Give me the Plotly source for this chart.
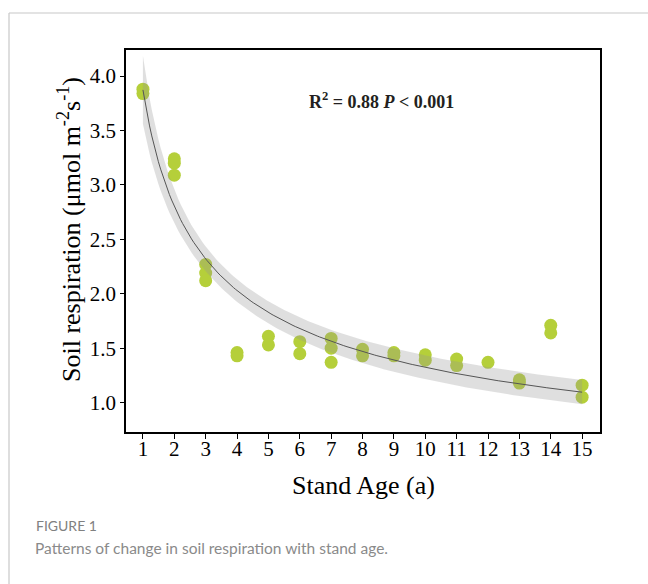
import numpy as np
import plotly.graph_objects as go

# ---- data ----
stand_age = [1, 1,
             2, 2, 2,
             3, 3, 3,
             4, 4,
             5, 5,
             6, 6,
             7, 7, 7,
             8, 8,
             9, 9,
             10, 10,
             11, 11,
             12,
             13, 13,
             14, 14,
             15, 15]
soil_resp = [3.88, 3.84,
             3.24, 3.20, 3.09,
             2.27, 2.19, 2.12,
             1.46, 1.43,
             1.61, 1.53,
             1.56, 1.45,
             1.59, 1.50, 1.37,
             1.49, 1.43,
             1.46, 1.43,
             1.44, 1.39,
             1.40, 1.34,
             1.37,
             1.21, 1.18,
             1.71, 1.64,
             1.16, 1.05]
x_ticks = list(range(1, 16))
y_ticks = [1.0, 1.5, 2.0, 2.5, 3.0, 3.5, 4.0]
y_tick_text = ["1.0", "1.5", "2.0", "2.5", "3.0", "3.5", "4.0"]
stat_text = "<b>R<sup>2</sup> = 0.88 <i>P</i> &lt; 0.001</b>"
x_title = "Stand Age (a)"
y_title = "Soil respiration (μmol m<sup>-2</sup>s<sup>-1</sup>)"
fig_label = "FIGURE 1"
caption = "Patterns of change in soil respiration with stand age."

# ---- power-law regression y = a * x^b fitted to the points (Gauss-Newton) ----
x = np.array(stand_age, dtype=float)
y = np.array(soil_resp, dtype=float)
b_lin, a_lin = np.polyfit(np.log(x), np.log(y), 1)
p = np.array([np.exp(a_lin), b_lin])
for _ in range(50):
    f = p[0] * x ** p[1]
    J = np.column_stack([x ** p[1], p[0] * x ** p[1] * np.log(x)])
    step, *_ = np.linalg.lstsq(J, y - f, rcond=None)
    p = p + step
a, b = p
resid = y - a * x ** b
dof = len(x) - 2
s2 = np.sum(resid ** 2) / dof
J = np.column_stack([x ** b, a * x ** b * np.log(x)])
cov = s2 * np.linalg.inv(J.T @ J)
t_crit = 2.04

xf = np.linspace(1, 15, 200)
yf = a * xf ** b
G = np.column_stack([xf ** b, a * xf ** b * np.log(xf)])
se = np.sqrt(np.einsum("ij,jk,ik->i", G, cov, G))
upper = yf + t_crit * se
lower = yf - t_crit * se

fig = go.Figure()
fig.add_trace(go.Scatter(
    x=stand_age, y=soil_resp, mode="markers",
    marker=dict(size=13, color="#b5cf3a", line=dict(width=0)),
    showlegend=False, hoverinfo="skip"))
fig.add_trace(go.Scatter(
    x=np.concatenate([xf, xf[::-1]]), y=np.concatenate([upper, lower[::-1]]),
    fill="toself", fillcolor="rgba(150,150,150,0.30)", line=dict(width=0),
    mode="lines", showlegend=False, hoverinfo="skip"))
fig.add_trace(go.Scatter(
    x=xf, y=yf, mode="lines", line=dict(color="#555555", width=1),
    showlegend=False, hoverinfo="skip"))

serif = "Liberation Serif, Times New Roman, serif"
L, R, T, B = 126, 600, 50, 432
W, H = 648, 584
pw, ph = R - L, B - T

def px(v):
    return (v - L) / pw

def py(v):
    return (B - v) / ph

fig.update_layout(
    width=W, height=H,
    margin=dict(l=L, r=W - R, t=T, b=H - B, pad=0),
    paper_bgcolor="white", plot_bgcolor="white",
    font=dict(family=serif, color="black"),
    xaxis=dict(range=[0.46, 15.57], tickvals=x_ticks, ticks="outside", ticklen=5,
               tickwidth=1, tickcolor="black", showline=True, linecolor="black",
               linewidth=1.5, mirror=True, showgrid=False, zeroline=False,
               ticklabelstandoff=-8,
               tickfont=dict(family=serif, size=21, color="black")),
    yaxis=dict(range=[0.73, 4.24], tickvals=y_ticks, ticktext=y_tick_text,
               ticks="outside", ticklen=4, tickwidth=1, tickcolor="black",
               showline=True, linecolor="black", linewidth=1.5, mirror=True,
               showgrid=False, zeroline=False,
               tickfont=dict(family=serif, size=21, color="black")),
    shapes=[
        dict(type="line", xref="paper", yref="paper", x0=px(9), x1=px(9),
             y0=py(13), y1=py(H + 5), line=dict(color="#c8c8c8", width=1.2)),
        dict(type="line", xref="paper", yref="paper", x0=px(9), x1=px(W + 5),
             y0=py(13), y1=py(13), line=dict(color="#c8c8c8", width=1.2)),
    ],
    annotations=[
        dict(x=px(69), y=py(230), xref="paper", yref="paper", text=y_title,
             textangle=-90, showarrow=False, xanchor="center", yanchor="middle",
             font=dict(family=serif, size=26, color="black")),
        dict(x=px(363), y=py(485), xref="paper", yref="paper", text=x_title,
             showarrow=False, xanchor="center", yanchor="middle",
             font=dict(family=serif, size=26, color="black")),
        dict(x=8.62, y=3.78, xref="x", yref="y", text=stat_text, showarrow=False,
             font=dict(family=serif, size=18, color="#231f20")),
        dict(x=px(34), y=py(525), xref="paper", yref="paper", text=fig_label,
             showarrow=False, xanchor="left", yanchor="middle",
             font=dict(family="Lato, Open Sans, sans-serif", size=14, color="#808080")),
        dict(x=px(33), y=py(548), xref="paper", yref="paper", text=caption,
             showarrow=False, xanchor="left", yanchor="middle",
             font=dict(family="Lato, Open Sans, sans-serif", size=15.5, color="#8a8a8a")),
    ],
)

fig.write_html("out.html")
